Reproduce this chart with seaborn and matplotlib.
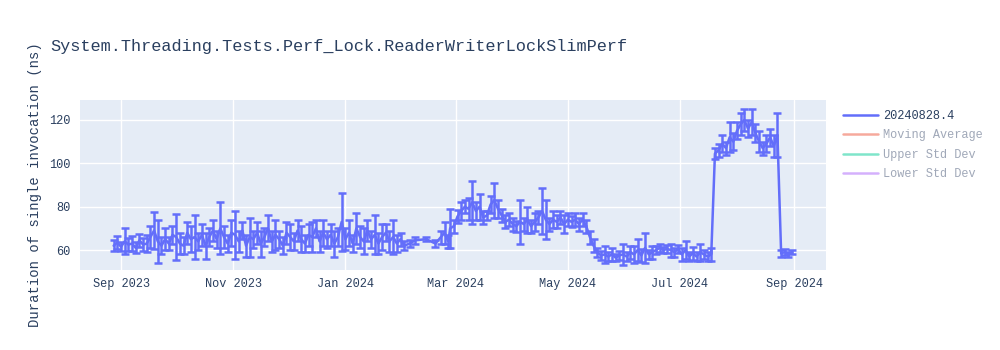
import matplotlib
matplotlib.use("Agg")
import matplotlib.pyplot as plt
import matplotlib.dates as mdates
from matplotlib.lines import Line2D
import seaborn as sns
import pandas as pd
import numpy as np

# ---- data ----
start_date = "2023-09-01"
day_offsets = [
    -4, -2, 0, 2, 4, 6, 8, 10, 12, 14, 16, 18, 20, 22, 24, 26, 28, 30, 32, 34, 36, 38, 40,
    42, 44, 46, 48, 50, 52, 54, 56, 58, 60, 62, 64, 66, 68, 70, 72, 74, 76, 78, 80,
    82, 84, 86, 88, 90, 92, 94, 96, 98, 100, 102, 104, 106, 108, 110, 112, 114, 116, 118, 120,
    122, 124, 126, 128, 130, 132, 134, 136, 138, 140, 142, 144, 146, 148, 150, 152, 154,
    157, 160, 166, 171, 174, 176, 178, 179,
    181, 183, 185, 187, 189, 191, 193, 195, 197, 199, 201, 203, 205, 207, 209, 211, 213,
    215, 217, 219, 221, 223, 225, 227, 229, 231, 233, 235, 237, 239, 241, 243, 245, 247,
    249, 251, 253,
    255, 257, 259, 261, 263, 265, 267, 269, 271, 273, 275, 277, 279, 281, 283, 285, 287,
    289, 291, 293, 295, 297, 299, 301, 303, 305, 307, 309, 311, 313, 315, 317, 319, 321,
    323, 325, 327, 329, 331, 333, 335, 337, 339, 341, 343, 345, 347, 349, 351, 353, 355, 357,
    359, 361, 363, 365,
]
durations = [
    62, 63.5, 61.5, 64, 62.5, 63, 61, 64.5, 62.5, 63, 66, 69, 64, 62, 65, 63, 67, 66, 63, 62, 68, 65, 66,
    64, 67, 62, 66, 69, 65, 70, 66, 63, 68, 67, 64, 69, 62, 66, 65, 68, 63, 66, 70,
    64, 67, 65, 62, 68, 66, 64, 69, 65, 63, 67, 66, 70, 64, 68, 65, 67, 63, 66, 73,
    65, 68, 63, 70, 66, 64, 69, 65, 67, 63, 66, 68, 64, 66, 63, 65, 62,
    63, 64.5, 65, 63, 66, 68, 64, 70,
    71, 75.5, 78, 80, 79, 82, 78, 80, 75, 76, 81, 83, 79, 76, 73, 74, 72,
    71, 73, 72, 74, 71, 73, 75, 78, 74, 72, 74, 73, 75, 72, 74, 73, 74,
    72, 74, 71,
    66, 62, 59, 57.5, 58, 57, 58, 56.5, 57.5, 58, 57, 59, 58, 60, 57.5, 61, 58,
    59, 60, 61, 60, 60.5, 60, 59, 60.5, 58, 60, 57, 58.5, 57, 59, 58, 57, 58,
    104.5, 106, 109, 107, 112, 110, 115, 118, 120, 116, 119, 114, 110, 107, 109, 112, 108, 113,
    58.5, 59, 58, 59,
]
std_devs = [
    2.5, 3, 2, 6, 3, 3.5, 2.5, 3, 3, 4, 5, 8.5, 10, 4, 5, 3, 4, 10.5, 5, 4, 5, 6, 10,
    4, 5, 6, 4, 5, 4, 12, 5, 4, 6, 11, 5, 4, 5, 9, 4, 5, 6, 4, 6,
    5, 7, 4, 4, 5, 6, 4, 5, 6, 4, 5, 7, 4, 5, 6, 4, 5, 6, 4, 13.5,
    5, 6, 4, 7, 5, 6, 5, 4, 9, 5, 6, 4, 5, 8, 4, 3, 2,
    1.5, 1.5, 1, 1.5, 3, 5, 3, 9,
    3, 3, 4, 3, 5, 10, 4, 6, 3, 2, 4, 8, 4, 3, 3, 3, 3,
    2.5, 10, 3, 6, 3, 4, 3, 10.6, 9, 3, 4, 3, 3, 4, 3, 2.5, 3,
    3, 3, 3,
    3, 3, 2, 2, 4, 2, 3, 1.5, 2, 5, 2, 3, 4, 5, 3, 7, 2,
    3, 2, 2, 1.5, 2, 3, 2, 2, 3, 4, 2, 3, 2, 4, 2, 2, 3,
    2.5, 3, 4, 3, 7, 4, 4, 5, 5, 4, 6, 4, 5, 3, 4, 4, 5, 10,
    1.5, 1.5, 1, 1,
]
series_name = "20240828.4"
hidden_series = ["Moving Average", "Upper Std Dev", "Lower Std Dev"]
hidden_colors = ["#EF553B", "#00CC96", "#AB63FA"]
title = "System.Threading.Tests.Perf_Lock.ReaderWriterLockSlimPerf"
y_label = "Duration of single invocation (ns)"
y_ticks = [60, 80, 100, 120]
x_ticks = ["2023-09-01", "2023-11-01", "2024-01-01", "2024-03-01",
           "2024-05-01", "2024-07-01", "2024-09-01"]

# ---- build frame ----
base = pd.Timestamp(start_date)
df = pd.DataFrame({
    "date": [base + pd.Timedelta(days=d) for d in day_offsets],
    "duration": durations,
    "std": std_devs,
})

sns.set_theme(style="darkgrid")
FONT = ["Liberation Mono", "DejaVu Sans Mono"]
plt.rcParams["font.family"] = FONT
TEXT = "#2a3f5f"
BLUE = "#636EFA"

fig = plt.figure(figsize=(10, 3.5), dpi=100)
fig.patch.set_facecolor("white")
ax = fig.add_axes([0.080, 0.2286, 0.746, 0.4857])
ax.set_facecolor("#E5ECF6")

sns.lineplot(data=df, x="date", y="duration", ax=ax, color=BLUE, linewidth=1.8,
             estimator=None, sort=False, legend=False)
ax.errorbar(df["date"], df["duration"], yerr=df["std"], fmt="none",
            ecolor=BLUE, elinewidth=1.8, capsize=3.2, capthick=1.8)

ax.set_xlim(base + pd.Timedelta(days=-22.3), base + pd.Timedelta(days=383.4))
ax.set_ylim(50.8, 129.2)
ax.set_yticks(y_ticks)
ax.set_xticks([pd.Timestamp(t) for t in x_ticks])
ax.xaxis.set_major_formatter(mdates.DateFormatter("%b %Y"))
ax.grid(True, color="white", linewidth=1)
for s in ax.spines.values():
    s.set_visible(False)
ax.tick_params(axis="both", length=0, labelsize=8.6, colors=TEXT)
ax.tick_params(axis="x", pad=6)
ax.tick_params(axis="y", pad=7)
ax.set_xlabel("")
ax.set_ylabel(y_label, fontsize=10, color=TEXT, labelpad=5)

fig.text(0.05, 0.868, title, fontsize=12.2, color=TEXT, ha="left", va="center")

handles = [Line2D([], [], color=BLUE, linewidth=1.8)]
labels = [series_name]
for name, c in zip(hidden_series, hidden_colors):
    handles.append(Line2D([], [], color=c, linewidth=1.8, alpha=0.5))
    labels.append(name)
leg = fig.legend(handles, labels, loc="upper left", bbox_to_anchor=(0.843, 0.686),
                 frameon=False, fontsize=8.6, handlelength=2.9, handletextpad=0.45,
                 labelspacing=0.62, borderaxespad=0, borderpad=0)
for i, t in enumerate(leg.get_texts()):
    t.set_color(TEXT if i == 0 else "#a0a8b8")

fig.savefig("out.png", dpi=100, facecolor="white")
